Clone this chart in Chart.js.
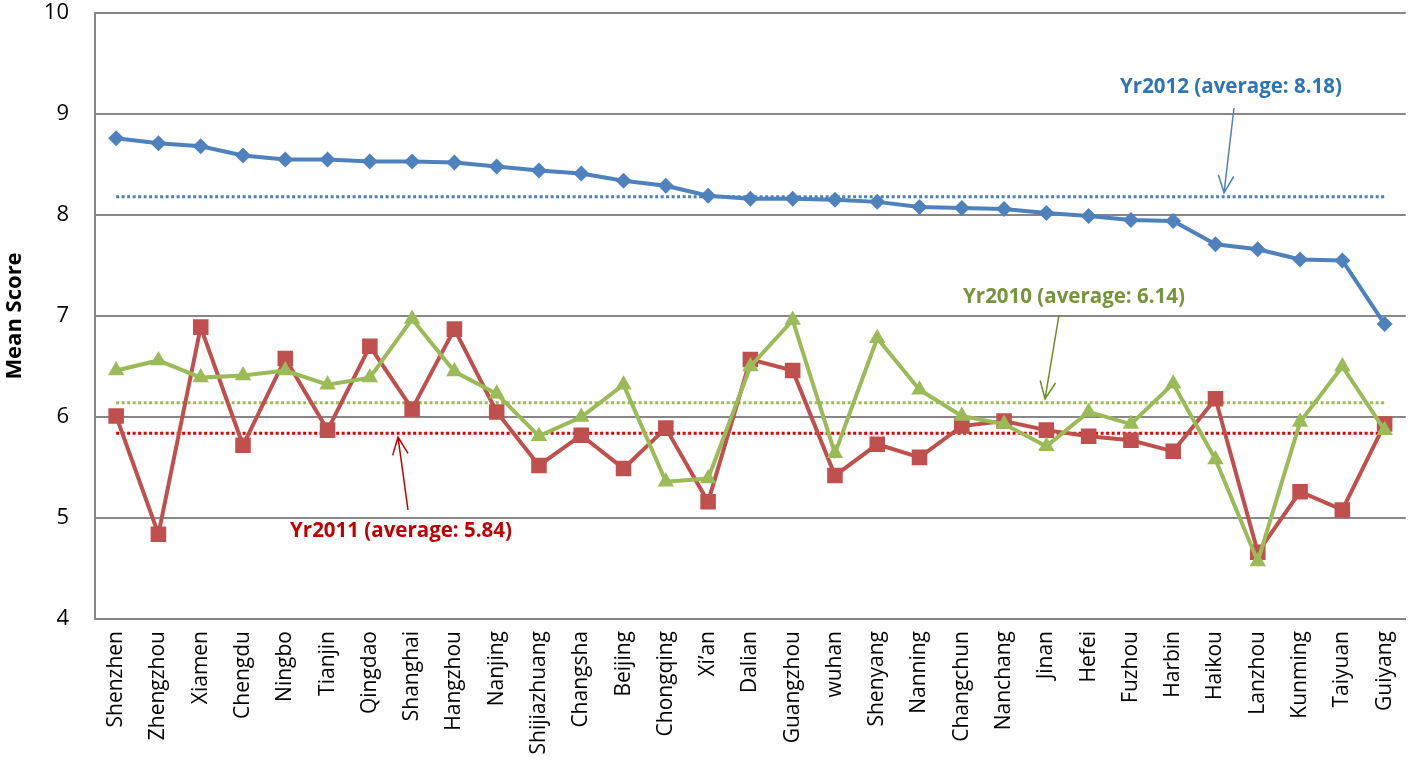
<!DOCTYPE html>
<html>
<head>
<meta charset="utf-8">
<title>Mean Score by City</title>
<script src="https://cdn.jsdelivr.net/npm/chart.js@4.4.1/dist/chart.umd.min.js"></script>
<style>
    html, body { margin: 0; padding: 0; background: #fff; overflow: hidden; }
    #wrap { width: 1422px; height: 774px; }
</style>
</head>
<body>
<div id="wrap"><canvas id="scoreChart" width="1422" height="774"></canvas></div>
<script>
// --- Data ---
const cities = ["Shenzhen", "Zhengzhou", "Xiamen", "Chengdu", "Ningbo", "Tianjin", "Qingdao", "Shanghai",
    "Hangzhou", "Nanjing", "Shijiazhuang", "Changsha", "Beijing", "Chongqing", "Xi\u2019an", "Dalian",
    "Guangzhou", "wuhan", "Shenyang", "Nanning", "Changchun", "Nanchang", "Jinan", "Hefei", "Fuzhou",
    "Harbin", "Haikou", "Lanzhou", "Kunming", "Taiyuan", "Guiyang"];

const yr2012 = [8.76, 8.71, 8.68, 8.59, 8.55, 8.55, 8.53, 8.53, 8.52, 8.48, 8.44, 8.41, 8.34, 8.29, 8.19, 8.16,
    8.16, 8.15, 8.13, 8.08, 8.07, 8.06, 8.02, 7.99, 7.95, 7.94, 7.71, 7.66, 7.56, 7.55, 6.92];
const yr2011 = [6.01, 4.84, 6.89, 5.72, 6.58, 5.87, 6.70, 6.08, 6.87, 6.05, 5.52, 5.82, 5.49, 5.89, 5.16, 6.57,
    6.46, 5.42, 5.73, 5.60, 5.91, 5.96, 5.87, 5.81, 5.77, 5.66, 6.18, 4.66, 5.26, 5.08, 5.93];
const yr2010 = [6.46, 6.56, 6.39, 6.41, 6.46, 6.32, 6.39, 6.97, 6.45, 6.23, 5.81, 6.00, 6.32, 5.36, 5.39, 6.50,
    6.96, 5.64, 6.78, 6.27, 6.01, 5.93, 5.71, 6.05, 5.93, 6.33, 5.58, 4.57, 5.95, 6.50, 5.87];

const avg2012 = 8.18;
const avg2011 = 5.84;
const avg2010 = 6.14;

const yTicks = [4, 5, 6, 7, 8, 9, 10];

// --- Colours ---
const BLUE = "#4F81BD", RED = "#C0504D", GREEN = "#9BBB59";
const GRID = "#878787";
const FONT = "'Open Sans', sans-serif";

// flat dotted line across every city
function avgLine(value, color){
    return {
        data: cities.map(() => value),
        borderColor: color,
        borderWidth: 3,
        borderDash: [3, 2.5],
        pointRadius: 0,
        fill: false,
        tension: 0
    };
}

// --- Callouts: text + thin arrow pointing at an average line ---
const callouts = [
    {text: `Yr2012 (average: ${avg2012.toFixed(2)})`, color: "#2E75B6", arrow: BLUE,
        tx: 1231, ty: 87, x0: 1234, y0: 108, x1: 1224, value: avg2012, off: -4},
    {text: `Yr2010 (average: ${avg2010.toFixed(2)})`, color: "#77933C", arrow: "#6B8E23",
        tx: 1074, ty: 297, x0: 1059, y0: 315, x1: 1045, value: avg2010, off: -4},
    {text: `Yr2011 (average: ${avg2011.toFixed(2)})`, color: "#C00000", arrow: "#C00000",
        tx: 401, ty: 531, x0: 408, y0: 510, x1: 398, value: avg2011, off: 4}
];

const calloutPlugin = {
    id: 'avgCallouts',
    afterDatasetsDraw(chart){
        const ctx = chart.ctx;
        const y = chart.scales.y;
        ctx.save();
        callouts.forEach(c => {
            ctx.font = "bold 20.5px " + FONT;
            ctx.fillStyle = c.color;
            ctx.textAlign = "center";
            ctx.textBaseline = "middle";
            ctx.fillText(c.text, c.tx, c.ty);

            let y1 = y.getPixelForValue(c.value) + c.off;
            ctx.strokeStyle = c.arrow;
            ctx.lineWidth = 1.5;
            ctx.beginPath();
            ctx.moveTo(c.x0, c.y0);
            ctx.lineTo(c.x1, y1);
            let ang = Math.atan2(y1 - c.y0, c.x1 - c.x0);
            let len = 19, spread = 0.42;
            ctx.moveTo(c.x1 - len * Math.cos(ang - spread), y1 - len * Math.sin(ang - spread));
            ctx.lineTo(c.x1, y1);
            ctx.lineTo(c.x1 - len * Math.cos(ang + spread), y1 - len * Math.sin(ang + spread));
            ctx.stroke();
        });
        ctx.restore();
    }
};

// --- Chart ---
const ctx = document.getElementById("scoreChart").getContext("2d");
new Chart(ctx, {
    type: 'line',
    data: {
        labels: cities,
        datasets: [
            {label: "Yr2012", data: yr2012, borderColor: BLUE, backgroundColor: BLUE, borderWidth: 4,
                pointStyle: 'rectRot', pointRadius: 8, pointBorderWidth: 0, tension: 0},
            {label: "Yr2010", data: yr2010, borderColor: GREEN, backgroundColor: GREEN, borderWidth: 4,
                pointStyle: 'triangle', pointRadius: 9.5, pointBorderWidth: 0, tension: 0},
            {label: "Yr2011", data: yr2011, borderColor: RED, backgroundColor: RED, borderWidth: 4,
                pointStyle: 'rect', pointRadius: 11, pointBorderWidth: 0, tension: 0},
            avgLine(avg2012, "#4A7EBB"),
            avgLine(avg2010, GREEN),
            avgLine(avg2011, "#E00000")
        ]
    },
    options: {
        responsive: false,
        animation: false,
        devicePixelRatio: 1,
        layout: {padding: {top: 13, right: 0, left: 0, bottom: 0}},
        plugins: {legend: {display: false}, tooltip: {enabled: false}},
        scales: {
            x: {
                offset: true,
                grid: {display: false, drawTicks: false},
                border: {display: true, color: GRID, width: 2},
                ticks: {color: "#000", font: {family: FONT, size: 21}, minRotation: 90, maxRotation: 90,
                    padding: 12, autoSkip: false},
                afterFit(scale){ scale.height = 155; }
            },
            y: {
                min: 4, max: 10,
                afterBuildTicks(scale){ scale.ticks = yTicks.map(v => ({value: v})); },
                grid: {color: GRID, lineWidth: 2, drawTicks: false},
                border: {display: true, color: GRID, width: 2},
                ticks: {color: "#000", font: {family: FONT, size: 22}, padding: 26},
                title: {display: true, text: "Mean Score", color: "#000",
                    font: {family: FONT, size: 22, weight: "bold"}, padding: {top: 2, bottom: 0}},
                afterFit(scale){
                    scale.width = 95;
                    // let the top tick label sit above the plot edge
                    scale.paddingTop = 0;
                    scale.paddingBottom = 0;
                }
            }
        }
    },
    plugins: [calloutPlugin]
});
</script>
</body>
</html>
